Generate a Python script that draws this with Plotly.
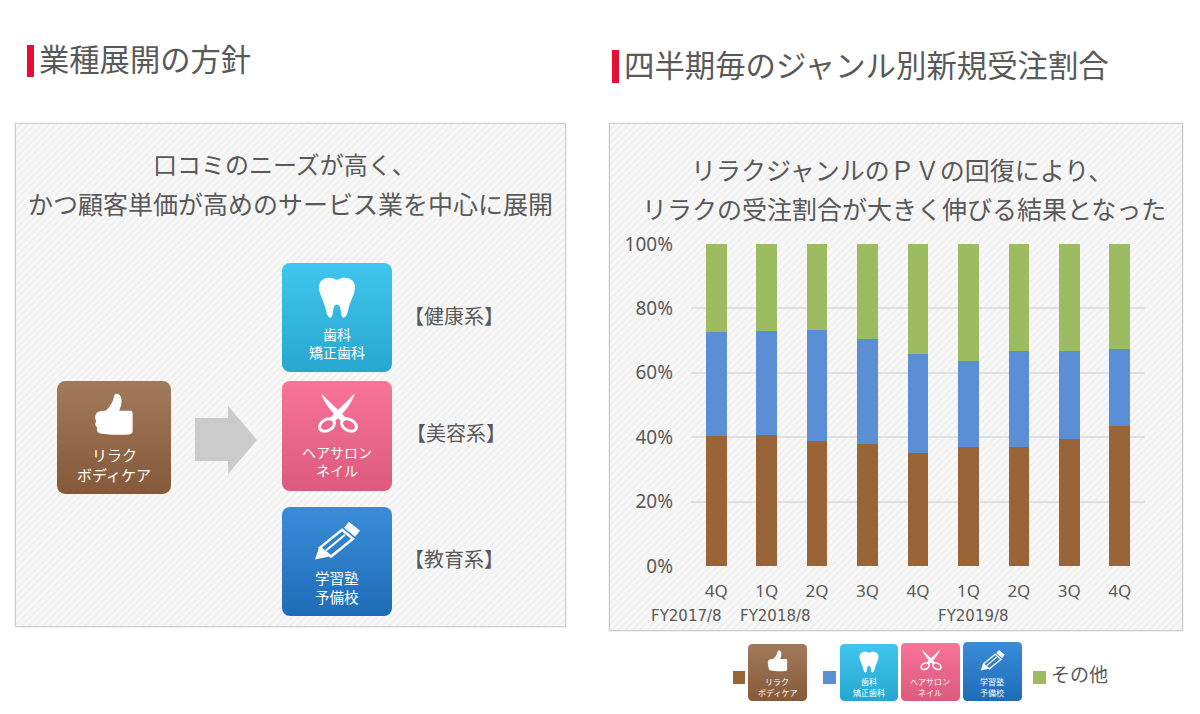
'''
    Two-panel slide: business expansion tiles on the left and a stacked
    100% bar chart of new orders per genre on the right.
'''

import base64

import plotly.graph_objects as go

WIDTH = 1200
HEIGHT = 714

# Chart data
QUARTERS = ['4Q', '1Q', '2Q', '3Q', '4Q', '1Q', '2Q', '3Q', '4Q']
RELAX = [40.5, 40.8, 38.8, 38.0, 35.0, 37.0, 37.0, 39.5, 43.5]
SPECIALIST = [32.3, 32.2, 34.4, 32.6, 30.7, 26.6, 29.7, 27.2, 24.0]
OTHER = [27.2, 27.0, 26.8, 29.4, 34.3, 36.4, 33.3, 33.3, 32.5]
PERCENT_TICKS = [0, 20, 40, 60, 80, 100]
PERCENT_LABELS = ['0%', '20%', '40%', '60%', '80%', '100%']

BROWN = '#996538'
BLUE = '#5a8fd6'
GREEN = '#9dbb61'
RED = '#e40f35'
TEXT = '#595959'
FONT = 'Noto Sans CJK JP'

THUMB = ('<path fill="#fff" d="M47,29 C52,24 54,20 55,15 C56,11 61,12 62,17 C63,22 61,26 60,29 '
         'L71,29 C73,29 73,31 73,33 L73,49 C73,51 71,52 69,52 C60,53 48,52 42,51 C38,50 38,47 39,45 '
         'C36,44 37,40 38,39 C36,37 37,33 38,32 C38,30 42,29 47,29Z"/>')
TOOTH = ('<path fill="#fff" d="M37,24 C37,17 44,14 49,15 C52,15.5 53,17 55,17 C57,17 58,15.5 61,15 '
         'C66,14 73,17 73,24 C73,32 68,38 66,48 C65,53 63,56 61,55 C58,54 60,42 55,42 '
         'C50,42 52,54 49,55 C47,56 45,53 44,48 C42,38 37,32 37,24Z"/>')
SCISSORS = ('<path fill="#fff" d="M39,12 C42,22 50,32 60,41 L64,37 C56,28 46,20 39,12Z"/>'
            '<path fill="#fff" d="M73,12 C70,22 62,32 52,41 L48,37 C56,28 66,20 73,12Z"/>'
            '<g fill="none" stroke="#fff" stroke-width="3">'
            '<ellipse cx="45" cy="44" rx="8" ry="5.5" transform="rotate(-30 45 44)"/>'
            '<ellipse cx="67" cy="44" rx="8" ry="5.5" transform="rotate(30 67 44)"/></g>')
PENCIL = ('<path fill="#fff" d="M33,53 L37,41 L47,50Z"/>'
          '<path fill="#fff" d="M67,15 L78,24 L73,30 L62,21Z"/>'
          '<path fill="none" stroke="#fff" stroke-width="2.5" d="M60,23 L71,32 L49,50 L38,41Z"/>'
          '<path fill="none" stroke="#fff" stroke-width="2" d="M63,28 L44,44"/>')


def svg_source(svg):
    '''
        Wraps an SVG string into a data URI usable as a layout image.
    '''
    return 'data:image/svg+xml;base64,' + base64.b64encode(svg.encode()).decode()


def panel_svg(w, h):
    '''
        Light panel with fine diagonal stripes and a grey border.
    '''
    return svg_source(
        f'<svg xmlns="http://www.w3.org/2000/svg" width="{w}" height="{h}" viewBox="0 0 {w} {h}">'
        '<defs><pattern id="s" width="5" height="5" patternUnits="userSpaceOnUse" '
        'patternTransform="rotate(45)"><rect width="5" height="5" fill="#f8f8f8"/>'
        '<rect width="1.6" height="5" fill="#efefef"/></pattern></defs>'
        f'<rect x="0.75" y="0.75" width="{w - 1.5}" height="{h - 1.5}" fill="url(#s)" '
        'stroke="#cccccc" stroke-width="1.5"/></svg>')


def tile_svg(top, bottom, icon):
    '''
        Rounded tile with a vertical gradient and a white icon.
    '''
    return svg_source(
        '<svg xmlns="http://www.w3.org/2000/svg" width="110" height="110" viewBox="0 0 110 110">'
        f'<defs><linearGradient id="g" x1="0" y1="0" x2="0" y2="1"><stop offset="0" stop-color="{top}"/>'
        f'<stop offset="1" stop-color="{bottom}"/></linearGradient></defs>'
        f'<rect width="110" height="110" rx="8" fill="url(#g)"/>{icon}</svg>')


def image(source, x0, y0, x1, y1, layer='above'):
    '''
        Places an image, given in pixel coordinates of the page.
    '''
    return dict(source=source, xref='paper', yref='paper', x=x0 / WIDTH, y=1 - y0 / HEIGHT,
                sizex=(x1 - x0) / WIDTH, sizey=(y1 - y0) / HEIGHT,
                xanchor='left', yanchor='top', sizing='stretch', layer=layer)


def label(text, x, y, size, color=TEXT, anchor='center', family=FONT):
    '''
        A text annotation, given in pixel coordinates of the page.
    '''
    return dict(text=text, x=x / WIDTH, y=1 - y / HEIGHT, xref='paper', yref='paper',
                xanchor=anchor, yanchor='middle', showarrow=False,
                font=dict(family=family, size=size, color=color))


def box(x0, y0, x1, y1, color):
    '''
        A filled rectangle, given in pixel coordinates of the page.
    '''
    return dict(type='rect', xref='paper', yref='paper', x0=x0 / WIDTH, x1=x1 / WIDTH,
                y0=1 - y0 / HEIGHT, y1=1 - y1 / HEIGHT, fillcolor=color, line_width=0)


def arrow(points, color):
    '''
        A filled polygon, given in pixel coordinates of the page.
    '''
    path = 'M' + ' L'.join(f'{x / WIDTH:.5f},{1 - y / HEIGHT:.5f}' for x, y in points) + ' Z'
    return dict(type='path', xref='paper', yref='paper', path=path, fillcolor=color, line_width=0)


brown_tile = tile_svg('#a27a5b', '#85593a', THUMB)
cyan_tile = tile_svg('#40c6ee', '#27a7cf', TOOTH)
pink_tile = tile_svg('#f87498', '#db5a7e', SCISSORS)
blue_tile = tile_svg('#3a8cd9', '#1f6cb6', PENCIL)

fig = go.Figure()
positions = list(range(len(QUARTERS)))
for values, color, name in [(RELAX, BROWN, 'リラク・ボディケア'),
                            (SPECIALIST, BLUE, '歯科・美容・教育'),
                            (OTHER, GREEN, 'その他')]:
    fig.add_trace(go.Bar(x=positions, y=values, name=name, marker_color=color, marker_line_width=0))

images = [
    image(panel_svg(552, 505), 14.5, 122.5, 566.5, 627.5, 'below'),
    image(panel_svg(575, 509), 608.5, 122.5, 1183.5, 631.5, 'below'),
    image(brown_tile, 57, 381, 171, 494),
    image(cyan_tile, 282, 263, 392, 372),
    image(pink_tile, 282, 381, 392, 491),
    image(blue_tile, 282, 507, 392, 616),
    image(brown_tile, 748, 644, 807, 701),
    image(cyan_tile, 840, 644, 898, 701),
    image(pink_tile, 901, 643, 960, 701),
    image(blue_tile, 963, 642, 1022, 701),
]

shapes = [
    box(27, 45, 34, 77, RED),
    box(612, 50, 619, 83, RED),
    arrow([(195, 418), (228, 418), (228, 406), (257, 440), (228, 474), (228, 461), (195, 461)], '#cbcbcb'),
    box(733, 671, 745, 684, BROWN),
    box(823, 671, 836, 684, BLUE),
    box(1033, 671, 1046, 684, GREEN),
]

annotations = [
    label('業種展開の方針', 37, 58, 30.3, anchor='left'),
    label('四半期毎のジャンル別新規受注割合', 622, 64, 30.4, anchor='left'),
    label('口コミのニーズが高く、', 284, 164, 24),
    label('かつ顧客単価が高めのサービス業を中心に展開', 290, 203, 25),
    label('リラクジャンルのＰＶの回復により、', 902, 169, 25),
    label('リラクの受注割合が大きく伸びる結果となった', 904, 208, 25),
    label('リラク', 114, 454, 15, '#ffffff'),
    label('ボディケア', 114, 474, 15, '#ffffff'),
    label('歯科', 337, 334, 14, '#ffffff'),
    label('矯正歯科', 337, 352, 14, '#ffffff'),
    label('ヘアサロン', 337, 452, 14, '#ffffff'),
    label('ネイル', 337, 470, 14, '#ffffff'),
    label('学習塾', 337, 577, 14.5, '#ffffff'),
    label('予備校', 337, 596, 14.5, '#ffffff'),
    label('【健康系】', 454, 315, 20),
    label('【美容系】', 456, 433, 20),
    label('【教育系】', 454, 558, 20),
    label('FY2017/8', 686, 616, 15, family='DejaVu Sans'),
    label('FY2018/8', 775, 616, 15, family='DejaVu Sans'),
    label('FY2019/8', 973, 616, 15, family='DejaVu Sans'),
    label('リラク', 777, 681, 8, '#ffffff'),
    label('ボディケア', 777, 692, 8, '#ffffff'),
    label('歯科', 869, 681, 8, '#ffffff'),
    label('矯正歯科', 869, 692, 8, '#ffffff'),
    label('ヘアサロン', 930, 681, 8, '#ffffff'),
    label('ネイル', 930, 692, 8, '#ffffff'),
    label('学習塾', 992, 681, 8, '#ffffff'),
    label('予備校', 992, 692, 8, '#ffffff'),
    label('その他', 1049, 673, 19, anchor='left'),
]

fig.update_layout(
    width=WIDTH,
    height=HEIGHT,
    margin=dict(l=0, r=0, t=0, b=0),
    barmode='stack',
    bargap=0.59,
    showlegend=False,
    paper_bgcolor='#ffffff',
    plot_bgcolor='rgba(0,0,0,0)',
    images=images,
    shapes=shapes,
    annotations=annotations,
    font=dict(family='Noto Sans', color=TEXT),
)
fig.update_xaxes(
    domain=[691 / WIDTH, 1145 / WIDTH],
    range=[-0.5, len(QUARTERS) - 0.5],
    automargin=False,
    tickmode='array',
    tickvals=positions,
    ticktext=QUARTERS,
    tickfont=dict(size=17, color=TEXT, family='Noto Sans'),
    ticklabelstandoff=13,
    showgrid=False,
    zeroline=False,
    showline=False,
)
fig.update_yaxes(
    domain=[1 - 566 / HEIGHT, 1 - 244 / HEIGHT],
    range=[0, 100],
    automargin=False,
    tickmode='array',
    tickvals=PERCENT_TICKS,
    ticktext=PERCENT_LABELS,
    tickfont=dict(size=19, color=TEXT, family='Noto Sans'),
    ticklabelstandoff=17,
    showgrid=True,
    gridcolor='#e0e0e0',
    gridwidth=2,
    zeroline=False,
    showline=False,
)

# the page's default body margin would shift everything by 8px
fig.write_html("out.html", config=dict(displayModeBar=False),
               post_script="document.body.style.margin = '0';")
